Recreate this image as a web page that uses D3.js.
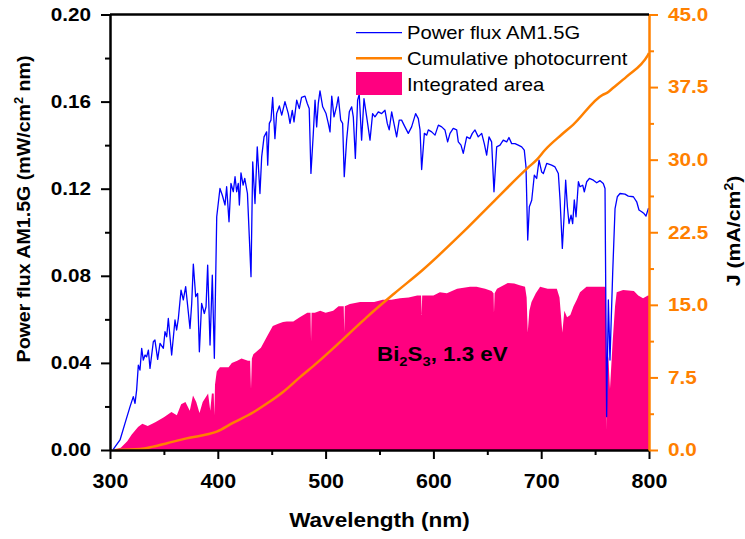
<!DOCTYPE html>
<html>
<head>
<meta charset="utf-8">
<script src="https://cdn.jsdelivr.net/npm/d3@7"></script>
<style>
  body { margin: 0; background: #fff; }
  svg text { font-family: "Liberation Sans", Arial, sans-serif; }
</style>
</head>
<body>
<div id="chart-area"></div>
<script>
// AM1.5G power flux (nm, mW/cm^2 nm)
var powerFlux = [
  [303, 0.0003], [309.3, 0.0046], [313.9, 0.0122], [318.6, 0.0199], [321.6, 0.0245], [323.2, 0.0214],
  [324.7, 0.0275], [326.3, 0.039], [327.8, 0.0367], [329.4, 0.0467], [330.9, 0.0413], [332.5, 0.0436],
  [334, 0.0428], [335.6, 0.0459], [337.1, 0.0375], [340.2, 0.0497], [341.7, 0.0505], [344.2, 0.0416],
  [346.4, 0.049], [349.5, 0.0467], [351, 0.0543], [352.6, 0.052], [354.1, 0.0604], [357.2, 0.0436],
  [360.3, 0.0597], [361.8, 0.0551], [363.4, 0.0604], [365.9, 0.0734], [368, 0.0689], [370.2, 0.075],
  [374.2, 0.0558], [375.8, 0.0673], [377.3, 0.0854], [379.5, 0.0704], [381.3, 0.0719], [382.9, 0.0451],
  [385, 0.0673], [387.5, 0.0627], [389.1, 0.0658], [390.6, 0.0849], [392.8, 0.0482], [394.9, 0.0803],
  [396.8, 0.0421], [399, 0.1071], [402, 0.1201], [404.2, 0.117], [406.7, 0.1125], [408.2, 0.1209],
  [410.4, 0.1048], [412.2, 0.1224], [414.4, 0.1186], [416, 0.1255], [417.5, 0.1186], [419, 0.1224],
  [420, 0.1125], [421.5, 0.1273], [423.5, 0.1216], [425, 0.1247], [427.5, 0.1178], [430.8, 0.0796],
  [432.4, 0.1323], [434.5, 0.1132], [436.6, 0.1392], [439.1, 0.1178], [440.7, 0.1346], [442.9, 0.1438],
  [445.3, 0.1461], [446.3, 0.1308], [447.8, 0.150], [449.3, 0.1515], [450.9, 0.1619], [453, 0.143],
  [454.6, 0.1545], [457.1, 0.158], [459.3, 0.1538], [462.3, 0.160], [465.4, 0.1545], [467, 0.150],
  [469.1, 0.156], [470.7, 0.1507], [473.2, 0.1607], [475.6, 0.1568], [477.7, 0.1619], [480.9, 0.1625],
  [483, 0.1591], [484.8, 0.1568], [486.4, 0.127], [488.6, 0.1454], [490.2, 0.1607], [491.7, 0.1484],
  [493.2, 0.1591], [494.8, 0.1649], [497.3, 0.1576], [500.4, 0.1545], [502.5, 0.150], [504.1, 0.1461],
  [505.7, 0.1625], [507.8, 0.153], [510.3, 0.158], [511.8, 0.1622], [514, 0.1515], [515.8, 0.150],
  [517.3, 0.1255], [519.5, 0.1423], [522, 0.1553], [524.2, 0.1576], [525.7, 0.153], [527.6, 0.1339],
  [529.7, 0.1607], [531.2, 0.1634], [533.4, 0.1423], [535.6, 0.1614], [538.1, 0.153], [541.2, 0.1423],
  [543.6, 0.1545], [545.8, 0.153], [548.9, 0.1553], [552, 0.1545], [555.1, 0.156], [557.2, 0.150],
  [559, 0.147], [561.3, 0.1553], [563.4, 0.150], [565.9, 0.1438], [568.3, 0.1515], [570.5, 0.1515],
  [573.6, 0.1484], [576.7, 0.1454], [579.8, 0.1484], [583.5, 0.1545], [586, 0.1522], [587.6, 0.147],
  [589.1, 0.1288], [591.6, 0.1454], [593.8, 0.1446], [595.3, 0.147], [598.4, 0.1461], [601.5, 0.1446],
  [604.6, 0.1492], [607.7, 0.1484], [610.7, 0.147], [613.2, 0.1415], [615.4, 0.1454], [618.4, 0.1477],
  [621.6, 0.147], [623.1, 0.1415], [625.6, 0.140], [627.7, 0.1362], [630.9, 0.1438], [633.9, 0.143],
  [636.1, 0.1454], [638.6, 0.147], [641.6, 0.1438], [644.8, 0.1454], [647.2, 0.1407], [649.4, 0.1354],
  [651.6, 0.1438], [654, 0.1415], [656.2, 0.1186], [658.7, 0.1392], [661.8, 0.140], [664.8, 0.1423],
  [668, 0.1415], [670.1, 0.1435], [672.6, 0.1407], [675.7, 0.1407], [678.7, 0.140], [681.9, 0.1392],
  [684.3, 0.1377], [685.9, 0.130], [687.5, 0.0964], [689, 0.1117], [691.2, 0.1147], [693.6, 0.1262],
  [695.8, 0.1247], [698, 0.1331], [700.4, 0.1277], [702, 0.127], [705.1, 0.1316], [709.7, 0.1308],
  [712.8, 0.130], [715.9, 0.127], [717.5, 0.1148], [719.6, 0.0926], [721.2, 0.1071], [722.7, 0.1239],
  [724.3, 0.1117], [725.8, 0.104], [727.7, 0.1079], [729.2, 0.104], [730.7, 0.1148], [732.3, 0.1071],
  [734.5, 0.1232], [736, 0.1209], [738.5, 0.1216], [740, 0.1186], [742.2, 0.1232], [744.7, 0.1247],
  [748.4, 0.1239], [751.5, 0.1227], [754.6, 0.1237], [757.6, 0.1224], [759.2, 0.1201], [760.7, 0.0153],
  [762.3, 0.0689], [763.8, 0.0413], [766.3, 0.0811], [768.5, 0.1109], [770.6, 0.1163], [773.1, 0.1178],
  [777.7, 0.1175], [780.8, 0.1166], [785.5, 0.1163], [788.6, 0.114], [790.7, 0.1102], [793.2, 0.1094],
  [795.4, 0.1086], [797.2, 0.1074], [799.4, 0.1109], [800, 0.1105]
];

// integrated (absorbed) area, left axis
var integratedArea = [
  [303, 0], [310, 0.001], [316, 0.004], [320, 0.007], [326, 0.0106], [330, 0.012], [335, 0.011],
  [342, 0.0128], [350, 0.015], [357, 0.0174], [362, 0.016], [366, 0.021], [370, 0.022], [374, 0.018],
  [377, 0.025], [380, 0.022], [383, 0.017], [386, 0.022], [391, 0.026], [393, 0.018], [394.5, 0.026],
  [396.2, 0.026], [396.8, 0.016], [397.4, 0.030], [399, 0.036], [402, 0.038], [406, 0.038], [410, 0.038],
  [413, 0.040], [418, 0.041], [422, 0.042], [428, 0.041], [430, 0.041], [430.8, 0.028], [431.6, 0.042],
  [433, 0.044], [440, 0.047], [445.5, 0.052], [451, 0.057], [456, 0.058], [460.5, 0.0588], [464, 0.059],
  [470, 0.059], [476, 0.061], [483, 0.063], [486, 0.063], [486.5, 0.050], [487, 0.063], [490, 0.063],
  [495, 0.064], [500, 0.063], [507, 0.064], [512, 0.066], [516.8, 0.066], [517.3, 0.054], [517.8, 0.066],
  [522.5, 0.067], [532, 0.068], [538, 0.068], [545, 0.068], [553, 0.069], [561, 0.069], [569, 0.0697],
  [577, 0.070], [585, 0.071], [588.6, 0.071], [589.1, 0.062], [589.6, 0.071], [600, 0.071], [606, 0.0725],
  [612.5, 0.072], [622, 0.074], [634, 0.075], [640, 0.075], [648, 0.074], [654, 0.073], [655.8, 0.072],
  [656.2, 0.063], [656.8, 0.072], [659, 0.074], [669, 0.0767], [675, 0.0765], [680, 0.0757], [685, 0.075],
  [686.5, 0.070], [687.5, 0.054], [689, 0.064], [691, 0.068], [695, 0.072], [699, 0.075], [706, 0.074],
  [714.5, 0.074], [717, 0.070], [719.6, 0.054], [721.5, 0.064], [724, 0.061], [727, 0.062], [730, 0.066],
  [733, 0.069], [736, 0.0725], [742, 0.075], [752, 0.075], [759, 0.075], [760, 0.074], [760.7, 0.009],
  [761.5, 0.040], [762.3, 0.043], [763.8, 0.028], [766.3, 0.050], [768.5, 0.066], [770, 0.0725],
  [776, 0.0735], [786, 0.073], [790, 0.071], [794.5, 0.0697], [799, 0.071], [800, 0.071]
];

// cumulative photocurrent (nm, mA/cm^2), right axis
var photocurrent = [
  [305, 0], [328, 0.1], [340, 0.35], [353, 0.7], [371, 1.2], [385, 1.5], [399, 1.9], [414, 2.8],
  [433, 3.9], [445.5, 4.8], [460.5, 6.0], [476, 7.5], [492, 9.0], [507, 10.5], [522.5, 12.1],
  [538, 13.7], [564, 16.2], [590, 18.6], [626.5, 22.4], [657, 25.8], [688, 29.2], [696, 30.0],
  [703.5, 31.0], [719, 32.6], [729.5, 33.6], [757, 36.7], [761, 36.9], [766.5, 37.4], [779.5, 38.6],
  [799, 40.8], [800, 41.0]
];

var xTicks = [300, 400, 500, 600, 700, 800];
var xMinor = [350, 450, 550, 650, 750];
var yTicks = [0, 0.04, 0.08, 0.12, 0.16, 0.20];
var yMinor = [0.02, 0.06, 0.10, 0.14, 0.18];
var jTicks = [0, 7.5, 15, 22.5, 30, 37.5, 45];
var jMinor = [3.75, 11.25, 18.75, 26.25, 33.75, 41.25];

var BLUE = "#0000ff", ORANGE = "#ff8000", PINK = "#ff0080";

var margin = { left: 110, right: 96, top: 14.5, bottom: 89 };
var width = 745 - margin.left - margin.right;
var height = 539 - margin.top - margin.bottom;

var svg = d3.select("#chart-area").append("svg")
    .attr("width", 745)
    .attr("height", 539);

var g = svg.append("g")
    .attr("transform", "translate(" + margin.left + ", " + margin.top + ")");

var x = d3.scaleLinear().domain([300, 800]).range([0, width]);
var y = d3.scaleLinear().domain([0, 0.2]).range([height, 0]);
var yJ = d3.scaleLinear().domain([0, 45]).range([height, 0]);

// marks
g.append("path")
    .datum(integratedArea)
    .attr("fill", PINK)
    .attr("d", d3.area().x((d) => x(d[0])).y0(y(0)).y1((d) => y(d[1])));

g.append("path")
    .datum(powerFlux)
    .attr("fill", "none")
    .attr("stroke", BLUE)
    .attr("stroke-width", 1.3)
    .attr("stroke-linejoin", "round")
    .attr("d", d3.line().x((d) => x(d[0])).y((d) => y(d[1])));

g.append("path")
    .datum(photocurrent)
    .attr("fill", "none")
    .attr("stroke", ORANGE)
    .attr("stroke-width", 2.5)
    .attr("d", d3.line().curve(d3.curveMonotoneX).x((d) => x(d[0])).y((d) => yJ(d[1])));

// axes
function styleAxis(sel, color) {
    sel.selectAll(".domain").attr("stroke", color).attr("stroke-width", 2.5);
    sel.selectAll(".tick line").attr("stroke", color).attr("stroke-width", 2);
    sel.selectAll(".tick text")
        .attr("fill", color)
        .style("font-weight", "bold");
}

var xMinorG = g.append("g")
    .attr("transform", "translate(0, " + height + ")")
    .call(d3.axisBottom(x).tickValues(xMinor).tickSize(5).tickSizeOuter(0).tickFormat(""));
xMinorG.select(".domain").remove();
styleAxis(xMinorG, "#000");

var xAxisGroup = g.append("g")
    .attr("transform", "translate(0, " + height + ")")
    .call(d3.axisBottom(x).tickValues(xTicks).tickSize(9).tickSizeOuter(0).tickFormat(d3.format("d")));
styleAxis(xAxisGroup, "#000");
xAxisGroup.selectAll(".tick text")
    .attr("y", 24).attr("dy", "0.71em")
    .style("font-size", "19.5px")
    .attr("transform", "scale(1.1,1)");

var yMinorG = g.append("g")
    .call(d3.axisLeft(y).tickValues(yMinor).tickSize(5).tickSizeOuter(0).tickFormat(""));
yMinorG.select(".domain").remove();
styleAxis(yMinorG, "#000");

var yAxisGroup = g.append("g")
    .call(d3.axisLeft(y).tickValues(yTicks).tickSize(9).tickSizeOuter(0).tickFormat(d3.format(".2f")));
styleAxis(yAxisGroup, "#000");
yAxisGroup.selectAll(".tick text")
    .attr("x", -19 / 1.15)
    .style("font-size", "18px")
    .attr("transform", "scale(1.15,1)");

var jMinorG = g.append("g")
    .attr("transform", "translate(" + width + ", 0)")
    .call(d3.axisRight(yJ).tickValues(jMinor).tickSize(5).tickSizeOuter(0).tickFormat(""));
jMinorG.select(".domain").remove();
styleAxis(jMinorG, ORANGE);

var jAxisGroup = g.append("g")
    .attr("transform", "translate(" + width + ", 0)")
    .call(d3.axisRight(yJ).tickValues(jTicks).tickSize(9).tickSizeOuter(0).tickFormat(d3.format(".1f")));
styleAxis(jAxisGroup, ORANGE);
jAxisGroup.selectAll(".tick text")
    .attr("x", 19 / 1.15)
    .style("font-size", "18px")
    .attr("transform", "scale(1.15,1)");

// top frame
g.append("line")
    .attr("x1", 0).attr("x2", width)
    .attr("y1", 0).attr("y2", 0)
    .attr("stroke", "#000")
    .attr("stroke-width", 2.5);

// axis titles
svg.append("text")
    .attr("transform", "translate(379.5, 527) scale(1.1,1)")
    .attr("text-anchor", "middle")
    .style("font-size", "20.5px")
    .style("font-weight", "bold")
    .text("Wavelength (nm)");

var yLabel = svg.append("text")
    .attr("transform", "translate(30, 209) rotate(-90) scale(1.06,1)")
    .attr("text-anchor", "middle")
    .style("font-size", "18.5px")
    .style("font-weight", "bold");
yLabel.append("tspan").text("Power flux AM1.5G (mW/cm");
yLabel.append("tspan").attr("dy", -7).style("font-size", "12px").text("2");
yLabel.append("tspan").attr("dy", 7).text(" nm)");

var jLabel = svg.append("text")
    .attr("transform", "translate(740, 231) rotate(-90) scale(1.12,1)")
    .attr("text-anchor", "middle")
    .style("font-size", "19px")
    .style("font-weight", "bold");
jLabel.append("tspan").text("J (mA/cm");
jLabel.append("tspan").attr("dy", -7).style("font-size", "12.5px").text("2");
jLabel.append("tspan").attr("dy", 7).text(")");

// annotation
var note = svg.append("text")
    .attr("transform", "translate(377, 361) scale(1.09,1)")
    .style("font-size", "20.5px")
    .style("font-weight", "bold");
note.append("tspan").text("Bi");
note.append("tspan").attr("dy", 5).style("font-size", "13.5px").text("2");
note.append("tspan").attr("dy", -5).text("S");
note.append("tspan").attr("dy", 5).style("font-size", "13.5px").text("3");
note.append("tspan").attr("dy", -5).text(", 1.3 eV");

// legend
var legend = svg.append("g");
var legendItems = ["Power flux AM1.5G", "Cumulative photocurrent", "Integrated area"];
legend.append("line")
    .attr("x1", 356).attr("x2", 402).attr("y1", 32.7).attr("y2", 32.7)
    .attr("stroke", BLUE).attr("stroke-width", 1.3);
legend.append("line")
    .attr("x1", 356).attr("x2", 402).attr("y1", 58.3).attr("y2", 58.3)
    .attr("stroke", ORANGE).attr("stroke-width", 2.5);
legend.append("rect")
    .attr("x", 356).attr("y", 72).attr("width", 46).attr("height", 23)
    .attr("fill", PINK);
legend.selectAll("text.item")
    .data(legendItems)
    .enter().append("text")
    .attr("class", "item")
    .attr("transform", (d, i) => "translate(407, " + [39.3, 65, 90.7][i] + ") scale(1.15,1)")
    .style("font-size", "17.6px")
    .text((d) => d);
</script>
</body>
</html>
